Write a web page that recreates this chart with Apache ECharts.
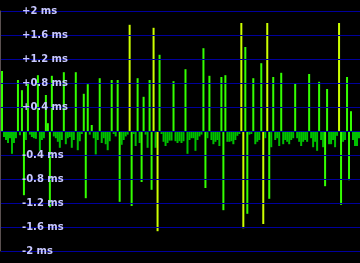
<!DOCTYPE html>
<html>
<head>
<meta charset="utf-8">
<script src="https://cdn.jsdelivr.net/npm/echarts@6/dist/echarts.min.js"></script>
<style>html,body{margin:0;padding:0;background:#000;}#c{width:360px;height:263px;}</style>
</head>
<body>
<div id="c"></div>
<script>
// Jitter samples in ms (three 60-sample segments)
var samplesA = [1.00,-0.10,-0.15,-0.20,-0.12,-0.38,-0.20,-0.12,0.85,-0.07,
  0.68,-1.07,-0.15,0.80,-0.06,-0.10,-0.12,-0.13,0.93,-0.33,
  -0.15,-0.12,0.60,0.13,-1.27,0.92,-0.09,-0.12,-0.18,-0.28,
  -0.15,0.98,-0.22,-0.12,-0.10,-0.28,-0.15,0.98,-0.32,-0.17,
  -0.05,0.62,-1.12,0.78,-0.06,0.10,-0.12,-0.39,-0.15,0.88,
  -0.20,-0.12,-0.22,-0.32,-0.17,0.85,-0.05,-0.09,0.85,-1.18];
var samplesB = [-0.23,-0.15,-0.09,-0.06,1.77,-1.25,-0.05,-0.25,0.88,-0.20,
  -0.85,0.57,-0.06,-0.28,0.85,-0.98,1.72,-0.28,-1.67,1.27,
  -0.05,-0.18,-0.25,-0.20,-0.16,-0.16,0.83,-0.17,-0.20,-0.17,
  -0.20,-0.17,1.03,-0.38,-0.15,-0.12,-0.12,-0.33,-0.15,-0.09,
  -0.06,1.38,-0.95,-0.12,0.92,-0.15,-0.22,-0.18,-0.15,-0.25,
  0.90,-1.32,0.93,-0.18,-0.18,-0.17,-0.22,-0.15,-0.08,-0.05];
var samplesC = [1.80,-1.62,1.40,-1.38,-0.06,-0.05,0.88,-0.22,-0.18,-0.15,
  1.13,-1.55,-0.12,1.80,-1.13,-0.27,0.90,-0.15,-0.12,-0.25,
  0.97,-0.22,-0.15,-0.18,-0.22,-0.15,-0.12,0.80,-0.12,-0.18,
  -0.25,-0.18,-0.15,-0.18,0.95,-0.12,-0.27,-0.18,-0.33,0.82,
  -0.15,-0.27,-0.92,0.70,-0.22,-0.22,-0.15,-0.27,-0.08,1.80,
  -1.23,-0.18,-0.15,0.90,-0.82,0.33,-0.15,-0.25,-0.25,-0.12];
var yTicks = [-2,-1.6,-1.2,-0.8,-0.4,0,0.4,0.8,1.2,1.6,2];

var values = samplesA.concat(samplesB, samplesC);
var categories = [];
for (var i = 0; i < values.length; i++) categories.push(String(i + 1));

function barColor(v) {
  if (Math.abs(v) >= 1.5) return '#ccff00';
  if (v < 0 && v > -0.5) return '#00c000';
  return '#33ff00';
}

var chart = echarts.init(document.getElementById('c'), null, {renderer: 'canvas'});
chart.setOption({
  backgroundColor: '#000000',
  animation: false,
  grid: {left: 1, top: 11, width: 360, height: 240, containLabel: false},
  xAxis: {
    type: 'category', data: categories, boundaryGap: true,
    axisLine: {show: false}, axisTick: {show: false}, axisLabel: {show: false},
    splitLine: {show: false}
  },
  yAxis: {
    type: 'value', min: yTicks[0], max: yTicks[yTicks.length - 1], interval: 0.4,
    offset: 1,
    axisLine: {show: true, lineStyle: {color: '#5a5050', width: 1}},
    axisTick: {show: false},
    splitLine: {show: true, lineStyle: {color: '#00009c', width: 1}},
    axisLabel: {
      inside: true, margin: 22, align: 'left', verticalAlign: 'middle',
      color: '#c8c8ff', fontFamily: 'DejaVu Sans', fontWeight: 'bold', fontSize: 10,
      textShadowColor: '#202050', textShadowOffsetX: 1, textShadowOffsetY: 1, textShadowBlur: 0,
      formatter: function (v) {
        var r = Math.round(v * 10) / 10;
        if (r === 0) return '';
        return (r > 0 ? '+' : '') + r + ' ms';
      }
    },
    z: 10
  },
  series: [{
    type: 'bar',
    data: values,
    barCategoryGap: '0%',
    barWidth: 2,
    itemStyle: {color: function (p) { return barColor(p.value); }},
    markLine: {
      silent: true, symbol: 'none', label: {show: false},
      lineStyle: {color: '#33ff00', width: 1, type: 'solid'},
      data: [{yAxis: 0}]
    }
  }]
});
</script>
</body>
</html>
